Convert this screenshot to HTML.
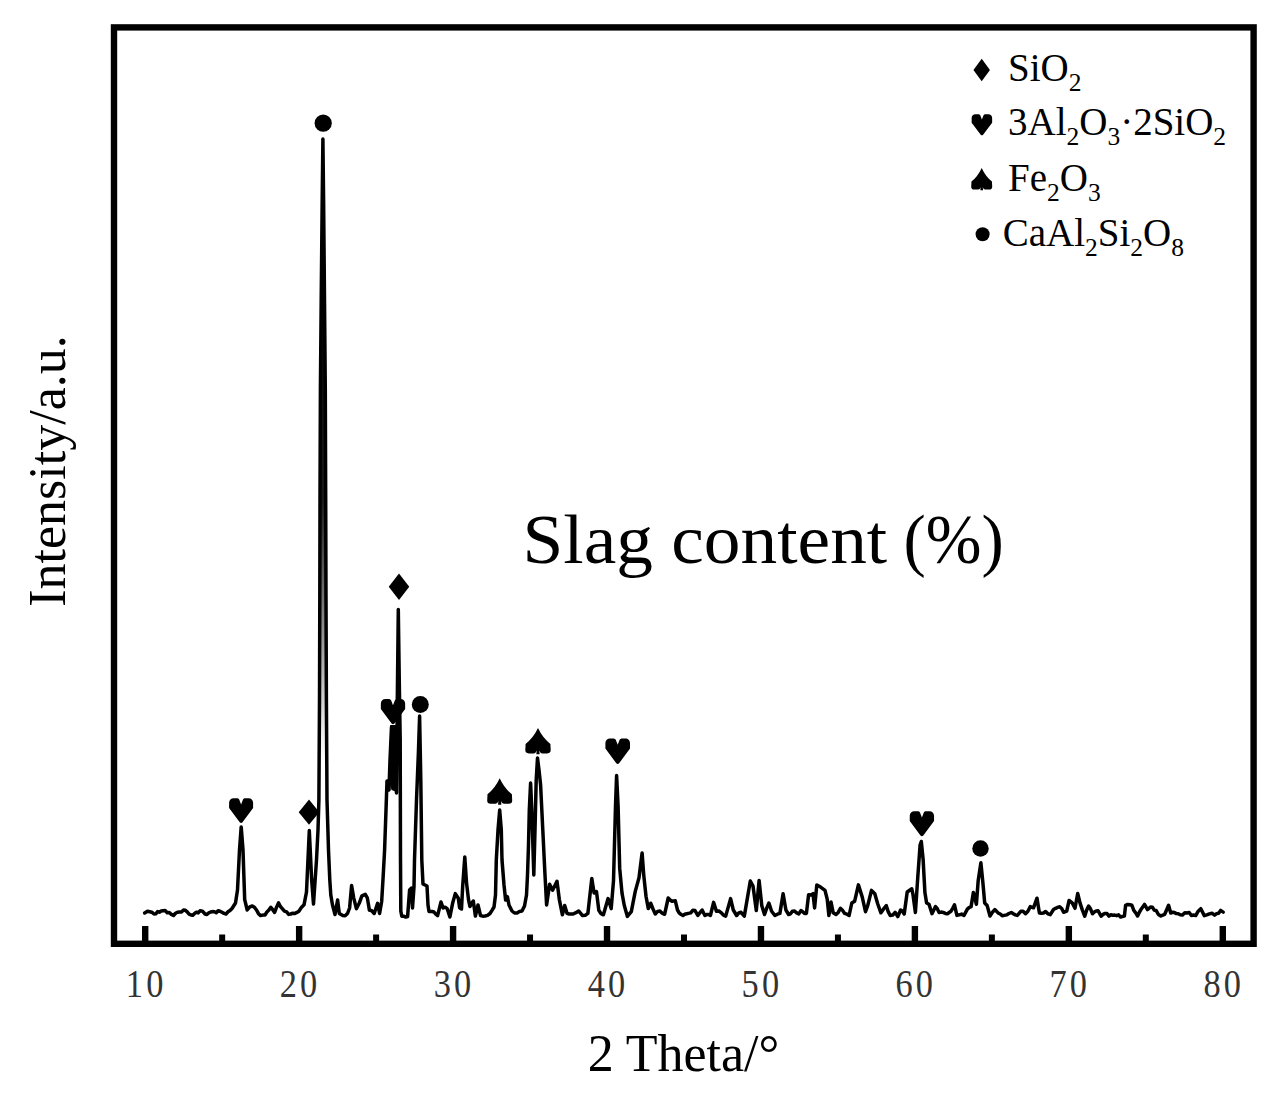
<!DOCTYPE html>
<html><head><meta charset="utf-8"><style>
html,body{margin:0;padding:0;background:#fff;}
body{width:1279px;height:1098px;overflow:hidden;}
svg{display:block;}
text{font-family:"Liberation Serif",serif;fill:#000;}
.tl{font-size:40px;fill:#333;}
.leg text{font-size:39px;}
.sb{font-size:25.5px;}
</style></head><body>
<svg width="1279" height="1098" viewBox="0 0 1279 1098">
<rect x="0" y="0" width="1279" height="1098" fill="#fff"/>
<rect x="114" y="27.4" width="1139.6" height="916.4" fill="none" stroke="#000" stroke-width="6.4"/>
<g fill="#000"><rect x="142.00" y="926" width="6.4" height="16"/><rect x="295.94" y="926" width="6.4" height="16"/><rect x="449.88" y="926" width="6.4" height="16"/><rect x="603.82" y="926" width="6.4" height="16"/><rect x="757.76" y="926" width="6.4" height="16"/><rect x="911.70" y="926" width="6.4" height="16"/><rect x="1065.64" y="926" width="6.4" height="16"/><rect x="1219.58" y="926" width="6.4" height="16"/><rect x="219.17" y="934.5" width="6" height="8"/><rect x="373.11" y="934.5" width="6" height="8"/><rect x="527.05" y="934.5" width="6" height="8"/><rect x="680.99" y="934.5" width="6" height="8"/><rect x="834.93" y="934.5" width="6" height="8"/><rect x="988.87" y="934.5" width="6" height="8"/><rect x="1142.81" y="934.5" width="6" height="8"/></g>
<defs><linearGradient id="gf" x1="0" y1="139" x2="0" y2="760" gradientUnits="userSpaceOnUse"><stop offset="0" stop-color="#000" stop-opacity="1"/><stop offset="0.58" stop-color="#000" stop-opacity="0.9"/><stop offset="0.74" stop-color="#000" stop-opacity="0.55"/><stop offset="0.81" stop-color="#000" stop-opacity="0.4"/><stop offset="0.94" stop-color="#000" stop-opacity="0.1"/><stop offset="1" stop-color="#000" stop-opacity="0"/></linearGradient></defs>
<path d="M322.9,139 L322.2,200 L321.2,300 L320.4,390 L320,500 L319.8,600 L319.5,700 L319.3,760 L326.7,760 L326.4,700 L326,600 L325.7,500 L325.3,390 L324.5,300 L323.6,200 Z" fill="url(#gf)"/>
<path d="M390.2,725 L400.6,725 L400.6,748 L397.4,753 L396.8,792 L391.5,790 L389.5,782 L390.2,760 Z" fill="#000"/>
<path d="M144.7,913.0 L147.5,911.2 L149.7,911.7 L151.8,912.2 L154.0,914.0 L155.8,913.8 L157.6,911.6 L159.4,912.2 L161.2,911.1 L163.0,910.8 L165.1,910.6 L167.2,912.7 L169.3,912.4 L171.4,914.4 L173.5,915.5 L175.5,913.3 L177.5,912.2 L179.5,912.0 L181.5,911.9 L183.5,910.0 L185.4,910.3 L187.2,911.8 L189.1,914.1 L191.0,915.0 L192.8,915.3 L194.6,913.5 L196.4,912.2 L198.2,912.9 L200.0,910.8 L202.5,911.2 L205.0,914.0 L206.9,914.6 L208.8,912.8 L210.6,912.0 L212.5,911.6 L214.4,911.8 L216.2,912.7 L218.1,910.7 L220.0,911.2 L222.0,912.3 L224.0,913.4 L226.0,914.0 L228.0,911.8 L230.0,910.5 L232.0,908.5 L235.5,903.0 L237.5,890.0 L239.5,850.0 L241.2,827.0 L243.0,850.0 L244.7,899.7 L247.2,910.0 L249.8,906.9 L252.3,906.0 L254.4,907.3 L256.5,910.0 L258.5,913.7 L260.6,915.6 L262.8,915.1 L265.0,915.0 L266.9,912.0 L268.9,910.1 L270.8,907.3 L272.7,909.7 L274.6,912.4 L276.6,907.1 L278.5,902.9 L280.4,906.5 L282.3,908.6 L284.4,911.1 L286.6,911.8 L288.7,914.4 L290.7,914.0 L292.8,913.2 L294.8,913.5 L296.9,912.4 L298.9,911.2 L301.4,907.4 L304.0,904.8 L306.5,892.0 L309.3,830.5 L311.6,879.0 L313.5,904.0 L315.0,882.0 L316.5,860.0 L318.0,830.0 L318.9,800.0 L319.5,700.0 L319.8,600.0 L320.0,500.0 L320.4,390.0 L321.2,300.0 L322.2,200.0 L322.9,139.0 L323.6,200.0 L324.5,300.0 L325.3,390.0 L325.7,500.0 L326.0,600.0 L326.4,700.0 L327.0,800.0 L328.5,850.0 L329.8,880.0 L330.8,895.0 L332.5,905.0 L335.0,914.5 L337.6,900.0 L339.3,913.5 L342.8,915.6 L345.1,915.8 L347.5,913.5 L349.6,908.0 L351.6,885.5 L353.7,897.8 L356.4,908.7 L359.2,903.3 L361.9,895.8 L365.3,894.4 L367.3,897.8 L369.4,910.1 L371.8,910.8 L374.2,913.5 L377.6,903.3 L379.6,913.5 L381.7,901.2 L383.1,877.3 L384.6,850.0 L386.0,810.0 L387.0,781.0 L389.0,790.0 L390.0,760.0 L391.5,727.0 L393.5,727.0 L395.3,770.0 L396.5,793.0 L397.3,700.0 L398.3,609.5 L399.4,690.0 L400.2,740.0 L400.5,860.0 L400.8,911.0 L401.8,916.3 L403.7,916.2 L405.7,917.1 L407.6,916.5 L409.6,890.0 L411.5,888.0 L412.5,908.0 L414.0,887.0 L414.5,860.0 L416.5,800.0 L418.5,750.0 L419.6,716.0 L420.8,780.0 L421.8,860.0 L423.0,884.0 L425.0,885.0 L427.0,886.0 L428.0,905.0 L429.0,911.5 L432.2,911.5 L434.0,912.0 L435.8,914.2 L437.6,915.6 L441.0,902.0 L443.1,908.0 L445.1,907.2 L447.2,908.7 L449.9,917.0 L452.6,903.3 L455.3,893.6 L458.3,898.3 L459.6,907.8 L461.5,909.0 L462.7,886.0 L464.8,857.0 L466.5,882.6 L468.5,899.6 L469.9,906.5 L473.3,901.0 L475.4,916.0 L478.0,905.0 L480.5,915.5 L482.8,916.2 L485.0,916.0 L487.5,915.4 L490.0,913.5 L492.0,910.4 L494.0,907.0 L495.5,895.0 L496.3,860.0 L498.0,830.0 L499.7,810.1 L501.3,830.0 L502.0,860.0 L504.0,885.0 L505.6,900.0 L507.4,896.7 L509.0,905.0 L512.0,911.0 L514.5,913.0 L517.0,913.0 L519.5,911.5 L522.0,911.0 L524.5,906.0 L526.5,895.0 L527.5,875.0 L528.5,845.0 L529.3,810.0 L530.6,783.0 L531.8,810.0 L533.8,875.0 L535.0,830.0 L536.2,780.0 L537.5,758.0 L539.0,770.0 L540.6,785.0 L542.8,830.0 L545.0,875.0 L546.6,905.0 L549.6,884.2 L552.6,890.2 L557.0,881.2 L559.3,899.3 L562.4,914.8 L564.7,905.5 L567.0,913.3 L569.1,914.0 L571.1,914.0 L573.2,914.0 L575.9,912.7 L578.6,911.0 L580.5,913.2 L582.5,915.6 L585.2,915.3 L587.9,913.3 L591.8,878.4 L594.1,893.1 L596.5,891.6 L598.8,910.2 L601.1,913.7 L603.4,914.8 L608.1,898.6 L611.2,908.6 L613.5,880.8 L615.5,806.4 L616.6,775.5 L618.1,806.4 L619.7,868.4 L622.0,893.1 L624.3,905.5 L627.4,916.4 L629.3,914.0 L631.3,911.7 L635.2,891.6 L639.0,877.7 L642.1,852.9 L643.7,874.6 L646.0,896.2 L648.3,908.6 L650.7,903.2 L653.0,909.0 L655.3,914.0 L657.6,911.4 L659.9,911.0 L662.2,913.2 L664.6,914.3 L668.2,898.0 L670.1,900.0 L672.0,901.3 L675.3,900.8 L677.5,910.0 L679.3,913.1 L681.2,914.5 L683.0,915.5 L684.8,914.2 L686.7,913.8 L688.5,913.4 L690.7,912.9 L692.8,910.3 L695.0,910.6 L697.8,915.5 L700.0,912.7 L702.1,910.0 L704.9,915.5 L706.7,914.6 L708.6,914.5 L710.4,915.5 L713.6,902.4 L716.4,911.2 L718.8,910.9 L721.3,912.8 L723.5,915.1 L725.7,916.1 L730.6,898.6 L733.3,910.0 L736.6,915.5 L738.8,912.9 L741.0,912.3 L744.3,916.1 L747.6,896.9 L750.3,881.0 L753.0,886.0 L756.3,910.6 L759.1,880.5 L761.8,905.7 L764.5,914.5 L766.7,908.1 L768.9,903.0 L771.6,911.2 L774.9,915.5 L777.4,914.2 L779.9,913.4 L783.1,893.7 L785.9,910.0 L788.6,914.5 L790.5,913.8 L792.4,911.2 L794.5,911.0 L796.7,912.9 L798.8,913.9 L800.9,910.6 L802.7,911.7 L804.6,913.5 L806.4,913.4 L808.6,894.7 L810.8,895.0 L813.0,893.7 L814.6,907.9 L816.8,884.9 L820.6,887.1 L825.0,890.4 L827.2,899.1 L828.9,915.5 L831.0,901.9 L833.2,912.8 L836.0,914.5 L838.2,912.4 L840.4,908.4 L842.5,910.3 L844.7,913.4 L846.9,914.2 L849.1,915.5 L851.8,903.0 L854.6,901.3 L858.4,884.9 L862.2,896.9 L865.5,911.7 L867.7,905.7 L871.5,890.4 L874.8,893.7 L877.6,903.5 L880.9,912.8 L883.6,908.9 L886.3,905.7 L888.2,911.6 L890.2,915.5 L892.7,915.1 L895.1,912.3 L897.8,916.6 L900.6,910.0 L902.4,911.1 L904.2,914.0 L907.2,892.0 L911.8,888.8 L913.0,894.7 L915.4,912.5 L917.8,877.0 L920.1,845.0 L921.3,841.5 L923.1,859.2 L924.9,892.4 L926.6,903.0 L929.0,904.2 L932.0,913.7 L935.5,906.6 L937.3,908.7 L939.1,912.5 L941.2,912.1 L943.2,912.4 L945.3,913.4 L947.4,913.7 L950.9,911.3 L952.7,908.3 L954.5,904.8 L956.9,915.4 L959.3,914.8 L961.6,914.1 L964.0,915.4 L967.5,908.9 L969.3,907.5 L971.1,906.6 L973.4,892.4 L976.4,904.2 L978.2,880.5 L980.9,862.8 L982.9,882.9 L984.7,903.0 L987.1,905.4 L990.0,916.0 L992.4,912.4 L994.8,909.5 L998.3,913.1 L1000.3,914.0 L1002.2,915.8 L1004.2,915.4 L1006.6,914.9 L1008.9,913.5 L1011.3,912.5 L1013.3,913.8 L1015.3,914.9 L1017.3,915.4 L1020.8,911.3 L1023.1,911.3 L1025.5,913.7 L1027.9,911.2 L1030.3,906.6 L1033.5,907.8 L1037.0,898.2 L1039.4,913.0 L1041.5,913.2 L1043.5,913.0 L1045.6,911.5 L1047.9,913.8 L1050.3,914.6 L1053.5,909.5 L1055.6,908.3 L1057.6,907.4 L1059.7,906.8 L1061.7,908.5 L1063.6,912.3 L1066.7,911.1 L1069.1,900.5 L1072.2,902.9 L1075.0,908.3 L1077.7,893.5 L1080.0,902.9 L1082.3,909.9 L1084.7,916.2 L1086.7,910.0 L1088.6,906.0 L1090.5,908.8 L1092.5,913.8 L1094.3,912.0 L1096.2,910.9 L1098.0,910.7 L1101.1,916.2 L1103.1,914.4 L1105.1,913.4 L1107.0,913.6 L1109.0,916.1 L1110.9,914.8 L1112.8,915.2 L1114.8,915.1 L1116.7,915.7 L1118.6,914.9 L1120.6,917.1 L1122.5,916.4 L1124.4,916.1 L1125.6,905.3 L1127.7,904.4 L1129.8,904.7 L1131.9,905.3 L1133.8,910.4 L1135.7,912.8 L1137.6,916.0 L1139.5,912.0 L1141.5,908.7 L1144.5,904.4 L1147.5,909.6 L1150.5,907.0 L1152.4,907.2 L1154.2,910.2 L1156.1,910.4 L1158.4,914.5 L1160.8,916.0 L1162.8,915.1 L1164.7,914.3 L1166.7,909.8 L1168.6,905.3 L1170.7,913.0 L1172.6,912.3 L1174.5,912.6 L1176.4,913.6 L1178.3,913.7 L1180.2,914.7 L1182.5,915.0 L1184.8,912.7 L1187.1,913.0 L1189.2,912.4 L1191.4,915.5 L1193.5,915.0 L1195.7,915.6 L1198.2,911.2 L1200.8,908.7 L1204.3,915.6 L1206.8,914.9 L1209.4,913.9 L1212.0,913.3 L1214.6,915.1 L1216.6,913.6 L1218.6,913.2 L1220.6,910.4 L1223.2,912.1" fill="none" stroke="#000" stroke-width="3.5" stroke-linejoin="round" stroke-linecap="round"/>
<g fill="#000"><path transform="translate(229.10,798.20) scale(1.0000,0.9840)" d="M12,6.3 L10.2,1.5 C9.7,0.5 8.8,0 7.5,0 L4.5,0 C2,0 0,2 0,4.5 L0,10 L10.6,24.4 Q12,25.8 13.4,24.4 L24,10 L24,4.5 C24,2 22,0 19.5,0 L16.5,0 C15.2,0 14.3,0.5 13.8,1.5 Z"/><path d="M309.00,799.55 L319.30,812.20 L309.00,824.85 L298.70,812.20 Z"/><circle cx="323.20" cy="123.20" r="8.60"/><path d="M399.00,573.55 L409.25,586.80 L399.00,600.05 L388.75,586.80 Z"/><path transform="translate(380.85,699.00) scale(1.0125,1.0080)" d="M12,6.3 L10.2,1.5 C9.7,0.5 8.8,0 7.5,0 L4.5,0 C2,0 0,2 0,4.5 L0,10 L10.6,24.4 Q12,25.8 13.4,24.4 L24,10 L24,4.5 C24,2 22,0 19.5,0 L16.5,0 C15.2,0 14.3,0.5 13.8,1.5 Z"/><circle cx="420.30" cy="704.40" r="8.50"/><path transform="translate(487.20,778.30) scale(0.9843,1.0076)" d="M12.7,0 Q8,10 0.3,15.8 L0,22 Q0,25.3 3.5,25.3 L8.5,25.3 Q10.5,25.3 11.4,22.5 L11,26.2 L14.4,26.2 L14,22.5 Q14.9,25.3 16.9,25.3 L21.9,25.3 Q25.4,25.3 25.4,22 L25.1,15.8 Q17.4,10 12.7,0 Z"/><path transform="translate(525.30,728.10) scale(1.0000,1.0000)" d="M12.7,0 Q8,10 0.3,15.8 L0,22 Q0,25.3 3.5,25.3 L8.5,25.3 Q10.5,25.3 11.4,22.5 L11,26.2 L14.4,26.2 L14,22.5 Q14.9,25.3 16.9,25.3 L21.9,25.3 Q25.4,25.3 25.4,22 L25.1,15.8 Q17.4,10 12.7,0 Z"/><path transform="translate(605.40,738.40) scale(1.0250,1.0160)" d="M12,6.3 L10.2,1.5 C9.7,0.5 8.8,0 7.5,0 L4.5,0 C2,0 0,2 0,4.5 L0,10 L10.6,24.4 Q12,25.8 13.4,24.4 L24,10 L24,4.5 C24,2 22,0 19.5,0 L16.5,0 C15.2,0 14.3,0.5 13.8,1.5 Z"/><path transform="translate(909.75,811.15) scale(1.0125,0.9960)" d="M12,6.3 L10.2,1.5 C9.7,0.5 8.8,0 7.5,0 L4.5,0 C2,0 0,2 0,4.5 L0,10 L10.6,24.4 Q12,25.8 13.4,24.4 L24,10 L24,4.5 C24,2 22,0 19.5,0 L16.5,0 C15.2,0 14.3,0.5 13.8,1.5 Z"/><circle cx="980.50" cy="848.50" r="8.20"/></g>
<g fill="#000"><path d="M981.70,58.65 L989.95,69.90 L981.70,81.15 L973.45,69.90 Z"/><path transform="translate(971.65,114.25) scale(0.8542,0.8400)" d="M12,6.3 L10.2,1.5 C9.7,0.5 8.8,0 7.5,0 L4.5,0 C2,0 0,2 0,4.5 L0,10 L10.6,24.4 Q12,25.8 13.4,24.4 L24,10 L24,4.5 C24,2 22,0 19.5,0 L16.5,0 C15.2,0 14.3,0.5 13.8,1.5 Z"/><path transform="translate(971.20,167.90) scale(0.8268,0.8550)" d="M12.7,0 Q8,10 0.3,15.8 L0,22 Q0,25.3 3.5,25.3 L8.5,25.3 Q10.5,25.3 11.4,22.5 L11,26.2 L14.4,26.2 L14,22.5 Q14.9,25.3 16.9,25.3 L21.9,25.3 Q25.4,25.3 25.4,22 L25.1,15.8 Q17.4,10 12.7,0 Z"/><circle cx="982.60" cy="234.20" r="7.00"/></g>
<g><text transform="translate(134.45,997) scale(0.86,1.02)" text-anchor="middle" class="tl">1</text><text transform="translate(154.75,997) scale(0.86,1.02)" text-anchor="middle" class="tl">0</text><text transform="translate(288.39,997) scale(0.86,1.02)" text-anchor="middle" class="tl">2</text><text transform="translate(308.69,997) scale(0.86,1.02)" text-anchor="middle" class="tl">0</text><text transform="translate(442.33,997) scale(0.86,1.02)" text-anchor="middle" class="tl">3</text><text transform="translate(462.63,997) scale(0.86,1.02)" text-anchor="middle" class="tl">0</text><text transform="translate(596.27,997) scale(0.86,1.02)" text-anchor="middle" class="tl">4</text><text transform="translate(616.57,997) scale(0.86,1.02)" text-anchor="middle" class="tl">0</text><text transform="translate(750.21,997) scale(0.86,1.02)" text-anchor="middle" class="tl">5</text><text transform="translate(770.51,997) scale(0.86,1.02)" text-anchor="middle" class="tl">0</text><text transform="translate(904.15,997) scale(0.86,1.02)" text-anchor="middle" class="tl">6</text><text transform="translate(924.45,997) scale(0.86,1.02)" text-anchor="middle" class="tl">0</text><text transform="translate(1058.09,997) scale(0.86,1.02)" text-anchor="middle" class="tl">7</text><text transform="translate(1078.39,997) scale(0.86,1.02)" text-anchor="middle" class="tl">0</text><text transform="translate(1212.03,997) scale(0.86,1.02)" text-anchor="middle" class="tl">8</text><text transform="translate(1232.33,997) scale(0.86,1.02)" text-anchor="middle" class="tl">0</text></g>
<g class="leg">
<text x="1008" y="81.3">SiO<tspan class="sb" dy="9.8">2</tspan></text>
<text x="1008" y="135.4">3Al<tspan class="sb" dy="9.8">2</tspan><tspan dy="-9.8">O</tspan><tspan class="sb" dy="9.8">3</tspan><tspan dy="-9.8">·2SiO</tspan><tspan class="sb" dy="9.8">2</tspan></text>
<text x="1008" y="191.4">Fe<tspan class="sb" dy="9.8">2</tspan><tspan dy="-9.8">O</tspan><tspan class="sb" dy="9.8">3</tspan></text>
<text x="1002.7" y="246.3">CaAl<tspan class="sb" dy="9.8">2</tspan><tspan dy="-9.8">Si</tspan><tspan class="sb" dy="9.8">2</tspan><tspan dy="-9.8">O</tspan><tspan class="sb" dy="9.8">8</tspan></text>
</g>
<text transform="translate(522.56,562.7) scale(1.048,1)" x="0" y="0" font-size="70">Slag content</text>
<text transform="translate(903.5,562.7) scale(0.97,1)" x="0" y="0" font-size="69">(%)</text>
<text x="683.5" y="1070.8" font-size="52" text-anchor="middle">2 Theta/°</text>
<text transform="translate(65,471) rotate(-90)" font-size="52" text-anchor="middle">Intensity/a.u.</text>
</svg>
</body></html>
